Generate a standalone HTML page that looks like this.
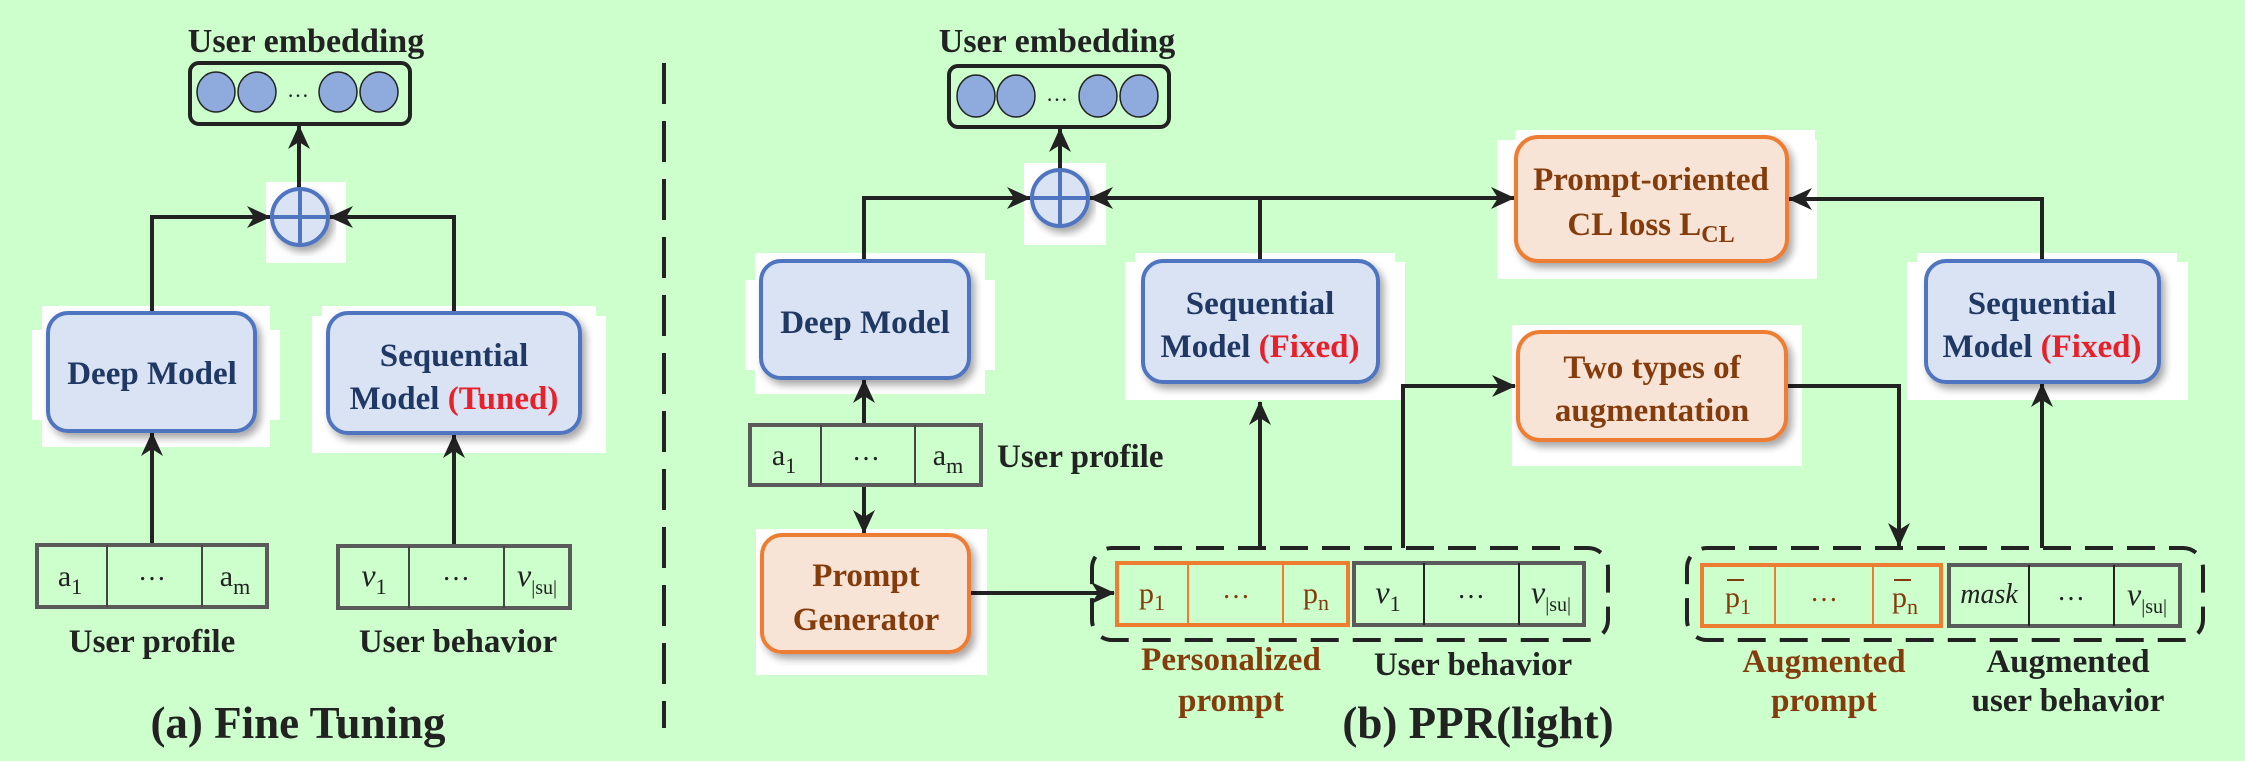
<!DOCTYPE html>
<html><head><meta charset="utf-8"><style>
html,body{margin:0;padding:0;background:#ccffcc;}
svg{display:block;}
text{font-family:"Liberation Serif",serif;}
.b{font-weight:bold;}
.nv{fill:#1f3864;}
.br{fill:#843c0c;}
.rd{fill:#e8202a;}
.k{fill:#222;}
</style></head><body>
<svg width="2245" height="761" viewBox="0 0 2245 761" xmlns="http://www.w3.org/2000/svg">
<defs>
<marker id="ar" markerWidth="24" markerHeight="22" refX="23" refY="11" orient="auto" markerUnits="userSpaceOnUse" viewBox="0 0 24 22">
<path d="M0,0 L24,11 L0,22 L7,11 z" fill="#222"/>
</marker>
<filter id="sh" x="-10%" y="-10%" width="125%" height="130%">
<feDropShadow dx="4" dy="5" stdDeviation="4" flood-color="#000" flood-opacity="0.35"/>
</filter>
</defs>
<rect width="2245" height="761" fill="#ccffcc"/>

<g fill="#fff">
<rect x="266" y="182" width="80" height="81"/>
<rect x="42" y="306" width="228" height="141"/><rect x="32" y="330" width="248" height="90"/>
<rect x="322" y="306" width="274" height="147"/><rect x="312" y="316" width="294" height="137"/>
<rect x="1024" y="163" width="82" height="82"/>
<rect x="755" y="253" width="230" height="141"/><rect x="745" y="280" width="250" height="90"/>
<rect x="1135" y="253" width="260" height="147"/><rect x="1125" y="262" width="280" height="138"/>
<rect x="756" y="529" width="231" height="146"/>
<rect x="1515" y="130" width="300" height="149"/><rect x="1497" y="140" width="320" height="139"/>
<rect x="1512" y="325" width="290" height="141"/>
<rect x="1917" y="253" width="260" height="147"/><rect x="1907" y="262" width="281" height="138"/>
</g>

<text x="306" y="52" text-anchor="middle" class="b k" font-size="34">User embedding</text>
<rect x="190" y="63" width="220" height="61" rx="9" fill="none" stroke="#222" stroke-width="4"/>
<g fill="#8faadc" stroke="#222" stroke-width="1.5">
<ellipse cx="216" cy="92" rx="19" ry="20"/><ellipse cx="257" cy="92" rx="19" ry="20"/>
<ellipse cx="338" cy="92" rx="19" ry="20"/><ellipse cx="379" cy="92" rx="19" ry="20"/>
</g>
<text x="298" y="97" text-anchor="middle" class="k" font-size="22">…</text>
<g stroke="#222" stroke-width="4" fill="none">
<line x1="299" y1="189" x2="299" y2="126" marker-end="url(#ar)"/>
<polyline points="152,313 152,217 270,217" marker-end="url(#ar)"/>
<polyline points="454,313 454,217 330,217" marker-end="url(#ar)"/>
<line x1="152" y1="545" x2="152" y2="433" marker-end="url(#ar)"/>
<line x1="454" y1="546" x2="454" y2="435" marker-end="url(#ar)"/>
</g>
<g filter="url(#sh)"><circle cx="300" cy="217" r="28" fill="#dae3f3" stroke="#4f75c0" stroke-width="4"/></g>
<line x1="300" y1="189" x2="300" y2="245" stroke="#4f75c0" stroke-width="4"/>
<line x1="272" y1="217" x2="328" y2="217" stroke="#4f75c0" stroke-width="4"/>

<rect x="48" y="313" width="207" height="118" rx="20" fill="#dae3f3" stroke="#4f75c0" stroke-width="4" filter="url(#sh)"/>
<text x="152" y="384" text-anchor="middle" class="b nv" font-size="33">Deep Model</text>
<rect x="328" y="313" width="252" height="120" rx="20" fill="#dae3f3" stroke="#4f75c0" stroke-width="4" filter="url(#sh)"/>
<text x="454" y="366" text-anchor="middle" class="b nv" font-size="33">Sequential</text>
<text x="454" y="409" text-anchor="middle" class="b nv" font-size="33">Model <tspan class="rd">(Tuned)</tspan></text>

<rect x="37" y="545" width="230" height="62" fill="none" stroke="#5a5a5a" stroke-width="4"/>
<line x1="107" y1="545" x2="107" y2="607" stroke="#444" stroke-width="2"/>
<line x1="202" y1="545" x2="202" y2="607" stroke="#444" stroke-width="2"/>
<text x="70" y="586" text-anchor="middle" class="k" font-size="30">a<tspan font-size="22" dy="8">1</tspan></text>
<text x="152" y="580" text-anchor="middle" class="k" font-size="28">…</text>
<text x="235" y="586" text-anchor="middle" class="k" font-size="30">a<tspan font-size="22" dy="8">m</tspan></text>
<rect x="338" y="546" width="232" height="62" fill="none" stroke="#5a5a5a" stroke-width="4"/>
<line x1="409" y1="546" x2="409" y2="608" stroke="#444" stroke-width="2"/>
<line x1="504" y1="546" x2="504" y2="608" stroke="#444" stroke-width="2"/>
<text x="374" y="586" text-anchor="middle" class="k" font-size="32" font-style="italic">v<tspan font-size="22" dy="8" font-style="normal">1</tspan></text>
<text x="456" y="580" text-anchor="middle" class="k" font-size="28">…</text>
<text x="537" y="586" text-anchor="middle" class="k" font-size="32" font-style="italic">v<tspan font-size="20" dy="8" font-style="normal">|su|</tspan></text>

<text x="152" y="652" text-anchor="middle" class="b k" font-size="33">User profile</text>
<text x="458" y="652" text-anchor="middle" class="b k" font-size="33">User behavior</text>
<text x="298" y="738" text-anchor="middle" class="b k" font-size="45">(a) Fine Tuning</text>

<line x1="664" y1="63" x2="664" y2="728" stroke="#222" stroke-width="4" stroke-dasharray="41 17"/>

<text x="1057" y="52" text-anchor="middle" class="b k" font-size="34">User embedding</text>
<rect x="949" y="66" width="220" height="61" rx="9" fill="none" stroke="#222" stroke-width="4"/>
<g fill="#8faadc" stroke="#222" stroke-width="1.5">
<ellipse cx="976" cy="96" rx="19" ry="21"/><ellipse cx="1016" cy="96" rx="19" ry="21"/>
<ellipse cx="1098" cy="96" rx="19" ry="21"/><ellipse cx="1139" cy="96" rx="19" ry="21"/>
</g>
<text x="1057" y="101" text-anchor="middle" class="k" font-size="22">…</text>

<g stroke="#222" stroke-width="4" fill="none">
<line x1="1060" y1="170" x2="1060" y2="129" marker-end="url(#ar)"/>
<polyline points="864,261 864,198 1030,198" marker-end="url(#ar)"/>
<line x1="1260" y1="198" x2="1090" y2="198" marker-end="url(#ar)"/>
<line x1="1260" y1="198" x2="1514" y2="198" marker-end="url(#ar)"/>
<line x1="1260" y1="198" x2="1260" y2="261"/>
<polyline points="2042,261 2042,199 1789,199" marker-end="url(#ar)"/>
<line x1="864" y1="425" x2="864" y2="380" marker-end="url(#ar)"/>
<line x1="864" y1="485" x2="864" y2="533" marker-end="url(#ar)"/>
<line x1="969" y1="593" x2="1114" y2="593" marker-end="url(#ar)"/>
<line x1="1260" y1="548" x2="1260" y2="402" marker-end="url(#ar)"/>
<polyline points="1403,548 1403,386 1515,386" marker-end="url(#ar)"/>
<polyline points="1786,386 1899,386 1899,546" marker-end="url(#ar)"/>
<line x1="2042" y1="548" x2="2042" y2="384" marker-end="url(#ar)"/>
</g>
<g filter="url(#sh)"><circle cx="1060" cy="198" r="28" fill="#dae3f3" stroke="#4f75c0" stroke-width="4"/></g>
<line x1="1060" y1="170" x2="1060" y2="226" stroke="#4f75c0" stroke-width="4"/>
<line x1="1032" y1="198" x2="1088" y2="198" stroke="#4f75c0" stroke-width="4"/>

<rect x="761" y="261" width="208" height="117" rx="20" fill="#dae3f3" stroke="#4f75c0" stroke-width="4" filter="url(#sh)"/>
<text x="865" y="333" text-anchor="middle" class="b nv" font-size="33">Deep Model</text>
<rect x="1143" y="261" width="235" height="121" rx="20" fill="#dae3f3" stroke="#4f75c0" stroke-width="4" filter="url(#sh)"/>
<text x="1260" y="314" text-anchor="middle" class="b nv" font-size="33">Sequential</text>
<text x="1260" y="357" text-anchor="middle" class="b nv" font-size="33">Model <tspan class="rd">(Fixed)</tspan></text>

<rect x="750" y="425" width="231" height="60" fill="none" stroke="#5a5a5a" stroke-width="4"/>
<line x1="821" y1="425" x2="821" y2="485" stroke="#444" stroke-width="2"/>
<line x1="915" y1="425" x2="915" y2="485" stroke="#444" stroke-width="2"/>
<text x="784" y="465" text-anchor="middle" class="k" font-size="30">a<tspan font-size="22" dy="8">1</tspan></text>
<text x="866" y="460" text-anchor="middle" class="k" font-size="28">…</text>
<text x="948" y="465" text-anchor="middle" class="k" font-size="30">a<tspan font-size="22" dy="8">m</tspan></text>
<text x="997" y="467" class="b k" font-size="33">User profile</text>

<rect x="762" y="535" width="207" height="117" rx="20" fill="#f8e4d6" stroke="#ed7d31" stroke-width="4" filter="url(#sh)"/>
<text x="866" y="586" text-anchor="middle" class="b br" font-size="33">Prompt</text>
<text x="866" y="630" text-anchor="middle" class="b br" font-size="33">Generator</text>

<rect x="1092" y="548" width="516" height="92" rx="20" fill="none" stroke="#222" stroke-width="4" stroke-dasharray="28 14"/>
<rect x="1117" y="563" width="231" height="62" fill="none" stroke="#ed7d31" stroke-width="4"/>
<line x1="1188" y1="563" x2="1188" y2="625" stroke="#ed7d31" stroke-width="2"/>
<line x1="1283" y1="563" x2="1283" y2="625" stroke="#ed7d31" stroke-width="2"/>
<text x="1152" y="603" text-anchor="middle" class="br" font-size="30">p<tspan font-size="22" dy="7">1</tspan></text>
<text x="1236" y="598" text-anchor="middle" class="br" font-size="28">…</text>
<text x="1316" y="603" text-anchor="middle" class="br" font-size="30">p<tspan font-size="22" dy="7">n</tspan></text>
<rect x="1354" y="563" width="230" height="62" fill="none" stroke="#5a5a5a" stroke-width="4"/>
<line x1="1424" y1="563" x2="1424" y2="625" stroke="#222" stroke-width="2"/>
<line x1="1519" y1="563" x2="1519" y2="625" stroke="#222" stroke-width="2"/>
<text x="1388" y="603" text-anchor="middle" class="k" font-size="32" font-style="italic">v<tspan font-size="22" dy="8" font-style="normal">1</tspan></text>
<text x="1471" y="598" text-anchor="middle" class="k" font-size="28">…</text>
<text x="1551" y="603" text-anchor="middle" class="k" font-size="32" font-style="italic">v<tspan font-size="20" dy="8" font-style="normal">|su|</tspan></text>

<text x="1231" y="670" text-anchor="middle" class="b br" font-size="33">Personalized</text>
<text x="1231" y="711" text-anchor="middle" class="b br" font-size="33">prompt</text>
<text x="1473" y="675" text-anchor="middle" class="b k" font-size="33">User behavior</text>
<text x="1478" y="738" text-anchor="middle" class="b k" font-size="45">(b) PPR(light)</text>

<rect x="1516" y="137" width="271" height="124" rx="22" fill="#f8e4d6" stroke="#ed7d31" stroke-width="4" filter="url(#sh)"/>
<text x="1651" y="190" text-anchor="middle" class="b br" font-size="33">Prompt-oriented</text>
<text x="1651" y="235" text-anchor="middle" class="b br" font-size="33">CL loss L<tspan font-size="24" dy="7">CL</tspan></text>

<rect x="1518" y="332" width="268" height="108" rx="22" fill="#f8e4d6" stroke="#ed7d31" stroke-width="4" filter="url(#sh)"/>
<text x="1652" y="378" text-anchor="middle" class="b br" font-size="33">Two types of</text>
<text x="1652" y="421" text-anchor="middle" class="b br" font-size="33">augmentation</text>

<rect x="1926" y="261" width="233" height="121" rx="20" fill="#dae3f3" stroke="#4f75c0" stroke-width="4" filter="url(#sh)"/>
<text x="2042" y="314" text-anchor="middle" class="b nv" font-size="33">Sequential</text>
<text x="2042" y="357" text-anchor="middle" class="b nv" font-size="33">Model <tspan class="rd">(Fixed)</tspan></text>

<rect x="1687" y="548" width="516" height="92" rx="20" fill="none" stroke="#222" stroke-width="4" stroke-dasharray="28 14"/>
<rect x="1702" y="565" width="239" height="61" fill="none" stroke="#ed7d31" stroke-width="4"/>
<line x1="1775" y1="565" x2="1775" y2="626" stroke="#ed7d31" stroke-width="2"/>
<line x1="1873" y1="565" x2="1873" y2="626" stroke="#ed7d31" stroke-width="2"/>
<text x="1738" y="607" text-anchor="middle" class="br" font-size="30">p<tspan font-size="22" dy="7">1</tspan></text>
<line x1="1727" y1="580" x2="1744" y2="580" stroke="#843c0c" stroke-width="2"/>
<text x="1824" y="601" text-anchor="middle" class="br" font-size="28">…</text>
<text x="1905" y="607" text-anchor="middle" class="br" font-size="30">p<tspan font-size="22" dy="7">n</tspan></text>
<line x1="1894" y1="580" x2="1911" y2="580" stroke="#843c0c" stroke-width="2"/>
<rect x="1949" y="565" width="231" height="61" fill="none" stroke="#5a5a5a" stroke-width="4"/>
<line x1="2029" y1="565" x2="2029" y2="626" stroke="#222" stroke-width="2"/>
<line x1="2114" y1="565" x2="2114" y2="626" stroke="#222" stroke-width="2"/>
<text x="1989" y="603" text-anchor="middle" class="k" font-size="28" font-style="italic">mask</text>
<text x="2071" y="600" text-anchor="middle" class="k" font-size="28">…</text>
<text x="2147" y="605" text-anchor="middle" class="k" font-size="32" font-style="italic">v<tspan font-size="20" dy="8" font-style="normal">|su|</tspan></text>

<text x="1824" y="672" text-anchor="middle" class="b br" font-size="33">Augmented</text>
<text x="1824" y="711" text-anchor="middle" class="b br" font-size="33">prompt</text>
<text x="2068" y="672" text-anchor="middle" class="b k" font-size="33">Augmented</text>
<text x="2068" y="711" text-anchor="middle" class="b k" font-size="33">user behavior</text>
</svg>
</body></html>
